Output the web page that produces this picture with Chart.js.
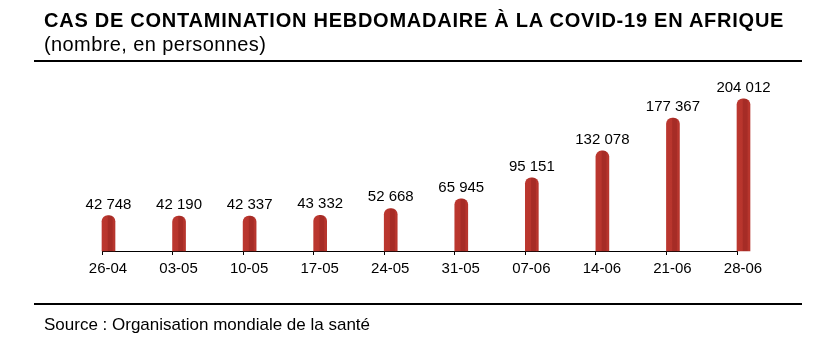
<!DOCTYPE html>
<html>
<head>
<meta charset="utf-8">
<script src="https://cdn.jsdelivr.net/npm/chart.js@4/dist/chart.umd.min.js"></script>
<style>
  html, body { margin: 0; padding: 0; background: #fff; }
  #wrap { position: relative; width: 840px; height: 348px; font-family: "Liberation Sans", Arial, sans-serif; color: #000; }
  #chart { position: absolute; left: 0; top: 0; }
  #title { position: absolute; left: 44px; top: 10px; font-size: 20px; line-height: 1; font-weight: bold; letter-spacing: 0.75px; white-space: nowrap; }
  #subtitle { position: absolute; left: 44px; top: 34px; font-size: 20px; line-height: 1; letter-spacing: 0.4px; white-space: nowrap; }
  .rule { position: absolute; left: 34px; width: 768px; height: 2px; background: #000; }
  #source { position: absolute; left: 44px; top: 316px; font-size: 17px; line-height: 1; white-space: nowrap; }
</style>
</head>
<body>
<div id="wrap">
  <canvas id="chart" width="840" height="348"></canvas>
  <div id="title">CAS DE CONTAMINATION HEBDOMADAIRE À LA COVID-19 EN AFRIQUE</div>
  <div id="subtitle">(nombre, en personnes)</div>
  <div class="rule" style="top:60px"></div>
  <div class="rule" style="top:303px"></div>
  <div id="source">Source : Organisation mondiale de la santé</div>
</div>
<script>
'use strict';

// weekly cases, week starting dates
var weeks = ['26-04', '03-05', '10-05', '17-05', '24-05', '31-05', '07-06', '14-06', '21-06', '28-06'];
var cases = [42748, 42190, 42337, 43332, 52668, 65945, 95151, 132078, 177367, 204012];
// empty series so the real bars sit just right of each tick
var spacer = weeks.map(function () { return null; });

var FONT = '"Liberation Sans", Arial, sans-serif';
var BAR_W = 13;
var Y_MIN = -6000;
var Y_MAX = 230000;

function fmt(v) {
   return String(v).replace(/\B(?=(\d{3})+(?!\d))/g, ' ');
}

// cylinder-ish shading across each bar
function barFill(c) {
   var chart = c.chart;
   var x0 = chart.scales && chart.scales.x ? chart.scales.x.getPixelForValue(c.dataIndex) : NaN;
   if (!isFinite(x0)) return '#b5342c';
   var g = chart.ctx.createLinearGradient(x0, 0, x0 + BAR_W, 0);
   g.addColorStop(0, '#bb372f');
   g.addColorStop(0.4, '#b8352d');
   g.addColorStop(0.48, '#a62c26');
   g.addColorStop(0.78, '#a62c26');
   g.addColorStop(0.86, '#b7352d');
   g.addColorStop(1, '#b7352d');
   return g;
}

var valueLabels = {
   id: 'valueLabels',
   afterDatasetsDraw: function (chart) {
      var ctx = chart.ctx;
      var meta = chart.getDatasetMeta(1);
      ctx.save();
      ctx.font = '15px ' + FONT;
      ctx.fillStyle = '#000';
      ctx.textAlign = 'center';
      ctx.textBaseline = 'alphabetic';
      meta.data.forEach(function (bar, i) {
         ctx.fillText(fmt(cases[i]), bar.x, bar.y - 7);
      });
      ctx.restore();
   }
};

Chart.defaults.font.family = FONT;
Chart.defaults.color = '#000';

new Chart(document.getElementById('chart'), {
   type: 'bar',
   data: {
      labels: weeks,
      datasets: [
         { data: spacer },
         {
            data: cases,
            base: Y_MIN,
            backgroundColor: barFill,
            borderWidth: 0,
            borderRadius: { topLeft: 6, topRight: 6, bottomLeft: 0, bottomRight: 0 },
            borderSkipped: 'bottom',
            clip: false
         }
      ]
   },
   options: {
      responsive: false,
      animation: false,
      barThickness: BAR_W,
      layout: { padding: { left: 102, right: 103, top: 80, bottom: 65 } },
      plugins: { legend: { display: false }, tooltip: { enabled: false } },
      scales: {
         x: {
            offset: false,
            grid: { offset: false, drawOnChartArea: false, drawTicks: true, tickLength: 4, color: '#000', lineWidth: 1 },
            border: { display: true, color: '#000', width: 1 },
            ticks: { font: { size: 15 }, padding: 5, labelOffset: 6, maxRotation: 0, autoSkip: false }
         },
         y: { display: false, min: Y_MIN, max: Y_MAX }
      }
   },
   plugins: [valueLabels]
});
</script>
</body>
</html>
